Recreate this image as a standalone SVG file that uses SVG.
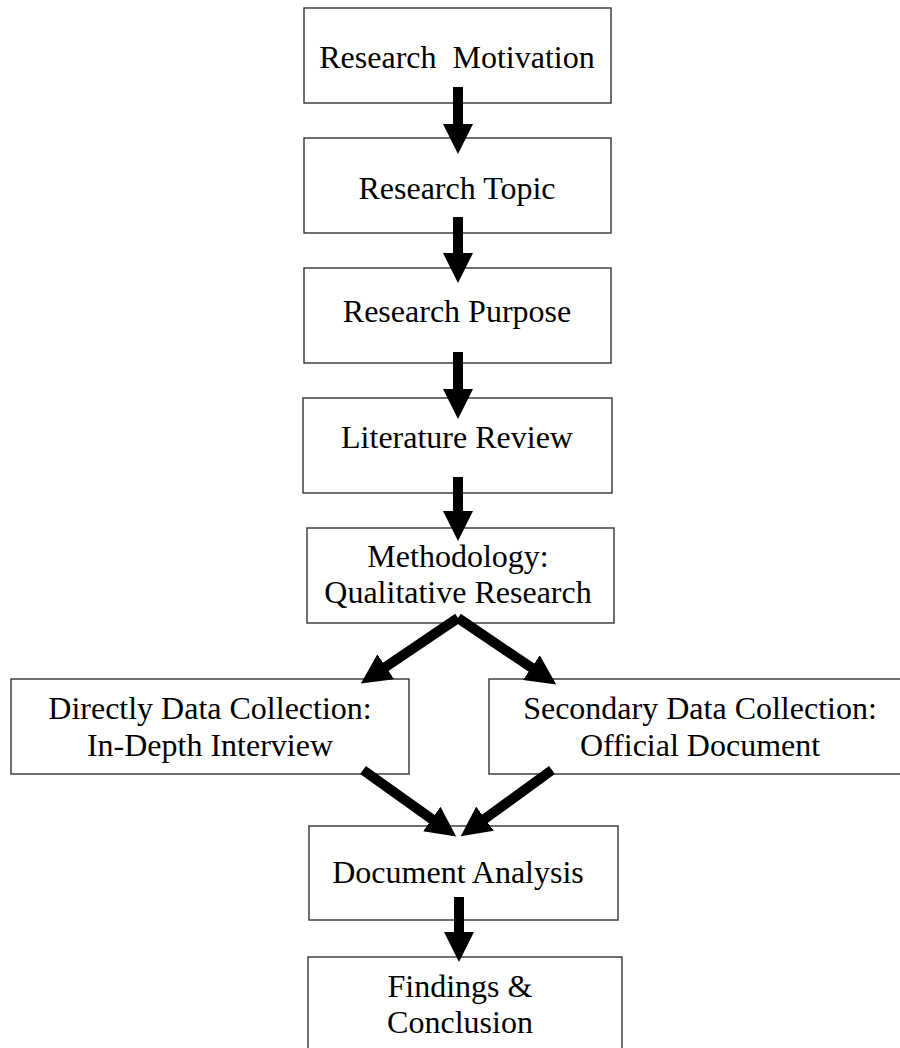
<svg xmlns="http://www.w3.org/2000/svg" width="900" height="1048" viewBox="0 0 900 1048">
<style>
.box{fill:#fff;stroke:#333;stroke-width:1.4}
.t{font-family:"Liberation Serif","Times New Roman",serif;font-size:32px;fill:#000;text-anchor:middle}
.c{stroke:#000;stroke-width:10;fill:none}
</style>
<defs>
<marker id="ah" viewBox="0 0 30 30" refX="1" refY="15" markerWidth="30" markerHeight="30" markerUnits="userSpaceOnUse" orient="auto">
<path d="M0,0 L30,15 L0,30 z" fill="#000"/>
</marker>
</defs>
<rect width="900" height="1048" fill="#fff"/>
<g id="n1"><rect class="box" x="304" y="8" width="307" height="95"/><text class="t" x="457" y="68" xml:space="preserve">Research  Motivation</text></g>
<g id="n2"><rect class="box" x="304" y="138" width="307" height="95"/><text class="t" x="457" y="199">Research Topic</text></g>
<g id="n3"><rect class="box" x="304" y="268" width="307" height="95"/><text class="t" x="457" y="322">Research Purpose</text></g>
<g id="n4"><rect class="box" x="303" y="398" width="309" height="95"/><text class="t" x="457" y="448">Literature Review</text></g>
<g id="n5"><rect class="box" x="307" y="528" width="307" height="95"/><text class="t" x="458" y="567">Methodology:</text><text class="t" x="458" y="603">Qualitative Research</text></g>
<g id="n6"><rect class="box" x="11" y="679" width="398" height="95"/><text class="t" x="210" y="719">Directly Data Collection:</text><text class="t" x="210" y="756">In-Depth Interview</text></g>
<g id="n7"><rect class="box" x="489" y="679" width="413" height="95"/><text class="t" x="700" y="719">Secondary Data Collection:</text><text class="t" x="700" y="756">Official Document</text></g>
<g id="n8"><rect class="box" x="309" y="826" width="309" height="94"/><text class="t" x="458" y="883">Document Analysis</text></g>
<g id="n9"><rect class="box" x="308" y="957" width="314" height="95"/><text class="t" x="460" y="997">Findings &amp;</text><text class="t" x="460" y="1033">Conclusion</text></g>
<g id="connectors">
<line class="c" x1="458" y1="87" x2="458" y2="125" marker-end="url(#ah)"/>
<line class="c" x1="458" y1="217" x2="458" y2="254" marker-end="url(#ah)"/>
<line class="c" x1="458" y1="352" x2="458" y2="390" marker-end="url(#ah)"/>
<line class="c" x1="458" y1="477" x2="458" y2="512" marker-end="url(#ah)"/>
<line class="c" x1="458" y1="618" x2="384.9" y2="667.3" marker-end="url(#ah)"/>
<line class="c" x1="458" y1="618" x2="532.2" y2="668.2" marker-end="url(#ah)"/>
<line class="c" x1="363" y1="770" x2="432.6" y2="819.6" marker-end="url(#ah)"/>
<line class="c" x1="552" y1="770" x2="484.2" y2="819.3" marker-end="url(#ah)"/>
<line class="c" x1="459" y1="897" x2="459" y2="933" marker-end="url(#ah)"/>
</g>
</svg>
